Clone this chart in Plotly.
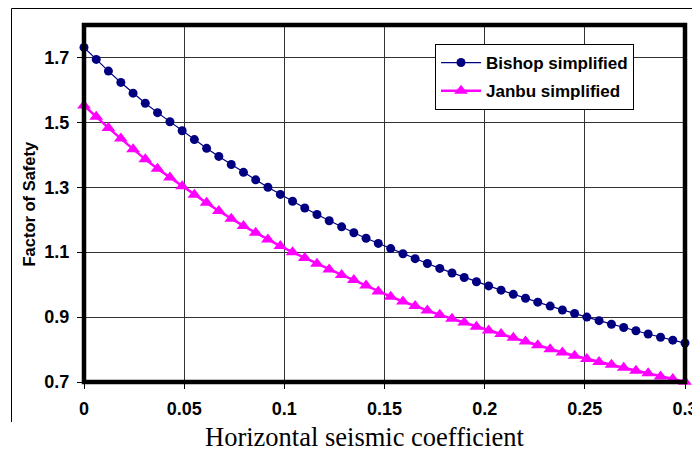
import plotly.graph_objects as go

# x positions of the 50 computed points (0 to 0.3)
x_coef = [0.0, 0.0061, 0.0122, 0.0184, 0.0245, 0.0306, 0.0367, 0.0429, 0.049, 0.0551,
          0.0612, 0.0673, 0.0735, 0.0796, 0.0857, 0.0918, 0.098, 0.1041, 0.1102, 0.1163,
          0.1224, 0.1286, 0.1347, 0.1408, 0.1469, 0.1531, 0.1592, 0.1653, 0.1714, 0.1776,
          0.1837, 0.1898, 0.1959, 0.202, 0.2082, 0.2143, 0.2204, 0.2265, 0.2327, 0.2388,
          0.2449, 0.251, 0.2571, 0.2633, 0.2694, 0.2755, 0.2816, 0.2878, 0.2939, 0.3]

bishop = [1.731, 1.694, 1.658, 1.623, 1.590, 1.559, 1.530, 1.502, 1.474, 1.447,
          1.420, 1.395, 1.370, 1.346, 1.323, 1.300, 1.278, 1.257, 1.236, 1.216,
          1.197, 1.178, 1.160, 1.143, 1.127, 1.111, 1.095, 1.080, 1.065, 1.050,
          1.036, 1.022, 1.009, 0.996, 0.983, 0.970, 0.958, 0.946, 0.934, 0.922,
          0.911, 0.900, 0.889, 0.878, 0.868, 0.858, 0.848, 0.838, 0.829, 0.820]

janbu = [1.552, 1.517, 1.483, 1.450, 1.417, 1.386, 1.357, 1.330, 1.303, 1.277,
         1.252, 1.227, 1.203, 1.181, 1.160, 1.139, 1.119, 1.100, 1.082, 1.064,
         1.047, 1.030, 1.014, 0.997, 0.979, 0.963, 0.948, 0.934, 0.920, 0.907,
         0.895, 0.883, 0.870, 0.859, 0.848, 0.836, 0.825, 0.813, 0.801, 0.791,
         0.781, 0.771, 0.762, 0.753, 0.744, 0.735, 0.727, 0.717, 0.709, 0.701]

x_ticks = [0, 0.05, 0.1, 0.15, 0.2, 0.25, 0.3]
x_tick_text = ["0", "0.05", "0.1", "0.15", "0.2", "0.25", "0.3"]
y_ticks = [0.7, 0.9, 1.1, 1.3, 1.5, 1.7]
y_tick_text = ["0.7", "0.9", "1.1", "1.3", "1.5", "1.7"]

tickfont = dict(family="Arial, Liberation Sans", size=18, color="black", weight="bold")
legfont = dict(family="Arial, Liberation Sans", size=17, color="black", weight="bold")

fig = go.Figure()
fig.add_trace(go.Scatter(
    x=x_coef, y=bishop, mode="lines+markers", name="Bishop simplified",
    line=dict(color="#000080", width=1.2),
    marker=dict(symbol="circle", size=9, color="#000080"),
    cliponaxis=False, legendgroup="a"))
fig.add_trace(go.Scatter(
    x=x_coef, y=janbu, mode="lines+markers", name="Janbu simplified",
    line=dict(color="#FF00FF", width=2.5),
    marker=dict(symbol="triangle-up", size=12, color="#FF00FF"),
    cliponaxis=False, legendgroup="b"))

W, H = 692, 451
L, R, T, B = 84, 7, 25, 69
pw, ph = W - L - R, H - T - B

def px(xp):
    return (xp - L) / pw

def py(yp):
    return (H - B - yp) / ph

fig.update_layout(
    width=W, height=H,
    margin=dict(l=L, r=R, t=T, b=B, pad=0, autoexpand=False),
    paper_bgcolor="white", plot_bgcolor="white",
    showlegend=True,
    legend=dict(x=px(435), y=py(44), xanchor="left", yanchor="top",
                bgcolor="white", bordercolor="black", borderwidth=1,
                font=legfont, tracegroupgap=3, itemwidth=40),
    xaxis=dict(range=[0, 0.3], tickvals=x_ticks, ticktext=x_tick_text,
               showgrid=True, gridcolor="#333333", gridwidth=1,
               zeroline=False, showline=False, automargin=False,
               ticks="outside", ticklen=6, tickcolor="black", tickwidth=1,
               tickfont=tickfont, ticklabeloverflow="allow", ticklabelstandoff=4),
    yaxis=dict(range=[0.7, 1.8], tickvals=y_ticks, ticktext=y_tick_text,
               showgrid=True, gridcolor="#333333", gridwidth=1,
               zeroline=False, showline=False, automargin=False,
               ticks="outside", ticklen=6, tickcolor="black", tickwidth=1,
               tickfont=tickfont, ticklabelstandoff=4),
    shapes=[
        dict(type="rect", xref="paper", yref="paper", x0=0, x1=1, y0=0, y1=1,
             line=dict(color="black", width=4.5), layer="above"),
        dict(type="line", xref="paper", yref="paper",
             x0=px(11.5), x1=px(11.5), y0=py(422), y1=py(8.5),
             line=dict(color="black", width=1)),
        dict(type="line", xref="paper", yref="paper",
             x0=px(11.5), x1=px(700), y0=py(8.5), y1=py(8.5),
             line=dict(color="black", width=1)),
    ],
    annotations=[
        dict(text="Factor of Safety", xref="paper", yref="paper",
             x=px(28), y=0.5, xanchor="center", yanchor="middle",
             textangle=-90, showarrow=False,
             font=dict(family="Arial, Liberation Sans", size=16.5, color="black", weight="bold")),
        dict(text="Horizontal seismic coefficient", xref="paper", yref="paper",
             x=px(365), y=py(437), xanchor="center", yanchor="middle",
             showarrow=False,
             font=dict(family="Times New Roman, Liberation Serif", size=26.5, color="black")),
    ],
)

fig.write_html("out.html")
